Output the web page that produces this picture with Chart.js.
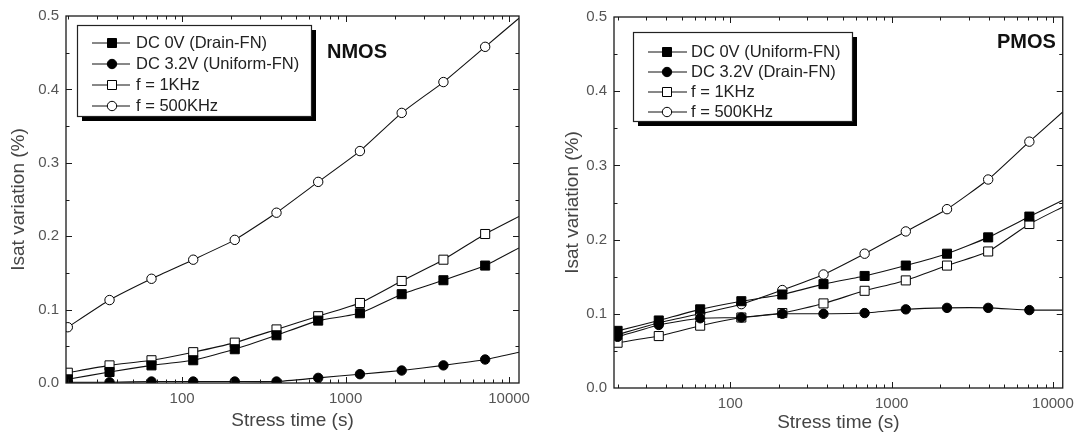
<!DOCTYPE html>
<html>
<head>
<meta charset="utf-8">
<script src="https://cdn.jsdelivr.net/npm/chart.js@4.4.1/dist/chart.umd.min.js"></script>
<style>
    html, body { margin: 0; padding: 0; background: #fff; }
    canvas { position: absolute; top: 0; }
    #nmosChart { left: 0; }
    #pmosChart { left: 540px; }
</style>
</head>
<body>
<canvas id="nmosChart" width="540" height="435"></canvas>
<canvas id="pmosChart" width="541" height="435"></canvas>
<script>
// stress time (s); the last entry is where the fitted curve leaves the frame
const stressTime = [20, 36, 65, 117, 210, 378, 680, 1224, 2204, 3967, 7141, 11500];
const xTickLabels = [100, 1000, 10000];
const yTickLabels = [0, 0.1, 0.2, 0.3, 0.4, 0.5];

const nmosLabels = ['DC 0V (Drain-FN)', 'DC 3.2V (Uniform-FN)', 'f = 1KHz', 'f = 500KHz'];
const nmosDc0 = [0.005, 0.015, 0.024, 0.031, 0.046, 0.065, 0.085, 0.095, 0.121, 0.140, 0.160, 0.184];
const nmosDc32 = [0.001, 0.001, 0.002, 0.002, 0.002, 0.002, 0.007, 0.012, 0.017, 0.024, 0.032, 0.042];
const nmos1k = [0.014, 0.024, 0.031, 0.042, 0.055, 0.073, 0.091, 0.109, 0.139, 0.168, 0.203, 0.227];
const nmos500k = [0.076, 0.113, 0.142, 0.168, 0.195, 0.232, 0.274, 0.316, 0.368, 0.410, 0.458, 0.497];

const pmosLabels = ['DC 0V (Uniform-FN)', 'DC 3.2V (Drain-FN)', 'f = 1KHz', 'f = 500KHz'];
const pmosDc0 = [0.077, 0.091, 0.106, 0.117, 0.126, 0.140, 0.151, 0.165, 0.181, 0.203, 0.231, 0.253];
const pmosDc32 = [0.069, 0.085, 0.094, 0.095, 0.100, 0.100, 0.101, 0.106, 0.108, 0.108, 0.105, 0.105];
const pmos1k = [0.061, 0.070, 0.084, 0.095, 0.101, 0.114, 0.131, 0.145, 0.165, 0.184, 0.221, 0.244];
const pmos500k = [0.072, 0.088, 0.100, 0.113, 0.132, 0.153, 0.181, 0.211, 0.241, 0.281, 0.332, 0.372];

const markerStyles = ['rect', 'circle', 'rect', 'circle'];
const markerFills = ['#000', '#000', '#fff', '#fff'];
const fontFamily = '"Liberation Sans", Arial, sans-serif';

function makeDatasets(labels, series) {
    return series.map((values, i) => ({
        label: labels[i],
        data: values.map((v, j) => ({x: stressTime[j], y: v})),
        borderColor: '#111',
        borderWidth: 1.1,
        pointStyle: markerStyles[i],
        pointBackgroundColor: markerFills[i],
        pointBorderColor: '#000',
        pointBorderWidth: 1,
        // no marker at the frame edge, only the curve
        pointRadius: values.map((v, j) => j === values.length - 1 ? 0 : (markerStyles[i] === 'rect' ? 6.4 : 4.7)),
        tension: 0.15,
        fill: false
    }));
}

function drawMarker(ctx, style, fill, cx, cy) {
    ctx.beginPath();
    if (style === 'rect') {
        ctx.rect(cx - 4.5, cy - 4.5, 9, 9);
    } else {
        ctx.arc(cx, cy, 4.7, 0, Math.PI * 2);
    }
    ctx.fillStyle = fill;
    ctx.fill();
    ctx.strokeStyle = '#000';
    ctx.lineWidth = 1;
    ctx.stroke();
}

// frame, inward ticks on all four sides, boxed legend and panel name
const framePlugin = {
    id: 'frame',
    afterDatasetsDraw(chart, args, opts) {
        const {ctx, chartArea: a, scales: {x, y}} = chart;
        ctx.save();
        ctx.strokeStyle = '#1a1a1a';
        ctx.lineWidth = 1.3;
        ctx.strokeRect(a.left, a.top, a.right - a.left, a.bottom - a.top);

        ctx.lineWidth = 1;
        ctx.beginPath();
        for (let dec = 10; dec <= 10000; dec *= 10) {
            for (let k = 1; k <= 9; k++) {
                const v = dec * k;
                if (v <= x.min || v >= x.max) continue;
                const px = Math.round(x.getPixelForValue(v)) + 0.5;
                const len = k === 1 ? 6 : 3.5;
                ctx.moveTo(px, a.bottom);
                ctx.lineTo(px, a.bottom - len);
                ctx.moveTo(px, a.top);
                ctx.lineTo(px, a.top + len);
            }
        }
        for (let i = 1; i < 10; i++) {
            const py = Math.round(y.getPixelForValue(i * 0.05)) + 0.5;
            const len = i % 2 === 0 ? 6 : 3.5;
            ctx.moveTo(a.left, py);
            ctx.lineTo(a.left + len, py);
            ctx.moveTo(a.right, py);
            ctx.lineTo(a.right - len, py);
        }
        ctx.stroke();

        // legend box with drop shadow
        const [bx, by, bw, bh] = opts.box;
        ctx.fillStyle = '#000';
        ctx.fillRect(bx + 5, by + 5, bw, bh);
        ctx.fillStyle = '#fff';
        ctx.fillRect(bx, by, bw, bh);
        ctx.lineWidth = 1.2;
        ctx.strokeStyle = '#222';
        ctx.strokeRect(bx + 0.5, by + 0.5, bw, bh);

        ctx.font = '16.5px ' + fontFamily;
        ctx.textBaseline = 'middle';
        chart.data.datasets.forEach((ds, i) => {
            const ry = by + opts.rowTop + i * opts.rowGap;
            ctx.beginPath();
            ctx.moveTo(bx + opts.line[0], ry);
            ctx.lineTo(bx + opts.line[1], ry);
            ctx.strokeStyle = '#111';
            ctx.lineWidth = 1;
            ctx.stroke();
            drawMarker(ctx, ds.pointStyle, ds.pointBackgroundColor, bx + opts.mark, ry);
            ctx.fillStyle = '#222';
            ctx.fillText(ds.label, bx + opts.text, ry);
        });

        ctx.font = 'bold 20px ' + fontFamily;
        ctx.fillStyle = '#111';
        ctx.fillText(opts.name, opts.nameAt[0], opts.nameAt[1]);
        ctx.restore();
    }
};

function makeConfig(labels, series, geo) {
    return {
        type: 'line',
        data: {datasets: makeDatasets(labels, series)},
        plugins: [framePlugin],
        options: {
            responsive: false,
            animation: false,
            layout: {padding: {top: geo.top, right: geo.right, left: 0, bottom: 0}},
            plugins: {
                legend: {display: false},
                tooltip: {enabled: false},
                frame: geo.frame
            },
            scales: {
                x: {
                    type: 'logarithmic',
                    min: geo.xMin,
                    max: 11500,
                    grid: {display: false, drawTicks: false},
                    border: {display: false},
                    afterBuildTicks: s => { s.ticks = xTickLabels.map(v => ({value: v})); },
                    afterFit: s => { s.height = geo.xHeight; },
                    ticks: {
                        autoSkip: false,
                        maxRotation: 0,
                        padding: 7,
                        color: '#555',
                        font: {family: fontFamily, size: 15},
                        callback: v => String(v)
                    },
                    title: {
                        display: true,
                        text: 'Stress time (s)',
                        color: '#444',
                        padding: {top: 0, bottom: geo.xTitlePad},
                        font: {family: fontFamily, size: 19}
                    }
                },
                y: {
                    type: 'linear',
                    min: 0,
                    max: 0.5,
                    grid: {display: false, drawTicks: false},
                    border: {display: false},
                    afterBuildTicks: s => { s.ticks = yTickLabels.map(v => ({value: v})); },
                    afterFit: s => { s.width = geo.yWidth; },
                    ticks: {
                        padding: 7,
                        color: '#555',
                        font: {family: fontFamily, size: 15},
                        callback: v => v.toFixed(1)
                    },
                    title: {
                        display: true,
                        text: 'Isat variation (%)',
                        color: '#444',
                        padding: {top: geo.yTitlePad, bottom: 0},
                        font: {family: fontFamily, size: 19}
                    }
                }
            }
        }
    };
}

const nmosChart = new Chart(
    document.getElementById('nmosChart'),
    makeConfig(nmosLabels, [nmosDc0, nmosDc32, nmos1k, nmos500k], {
        top: 16, right: 21, xHeight: 52, yWidth: 66, xMin: 19.5,
        xTitlePad: 3, yTitlePad: 7,
        frame: {box: [77, 25, 234, 91], rowTop: 18, rowGap: 21, line: [15, 53], mark: 35, text: 59,
                name: 'NMOS', nameAt: [327, 52]}
    })
);

const pmosChart = new Chart(
    document.getElementById('pmosChart'),
    makeConfig(pmosLabels, [pmosDc0, pmosDc32, pmos1k, pmos500k], {
        top: 17, right: 9, xHeight: 47, yWidth: 74, xMin: 19,
        xTitlePad: 1, yTitlePad: 21,
        frame: {box: [93, 32, 219, 89], rowTop: 20, rowGap: 20, line: [15, 54], mark: 34, text: 58,
                name: 'PMOS', nameAt: [457, 42]}
    })
);
</script>
</body>
</html>
